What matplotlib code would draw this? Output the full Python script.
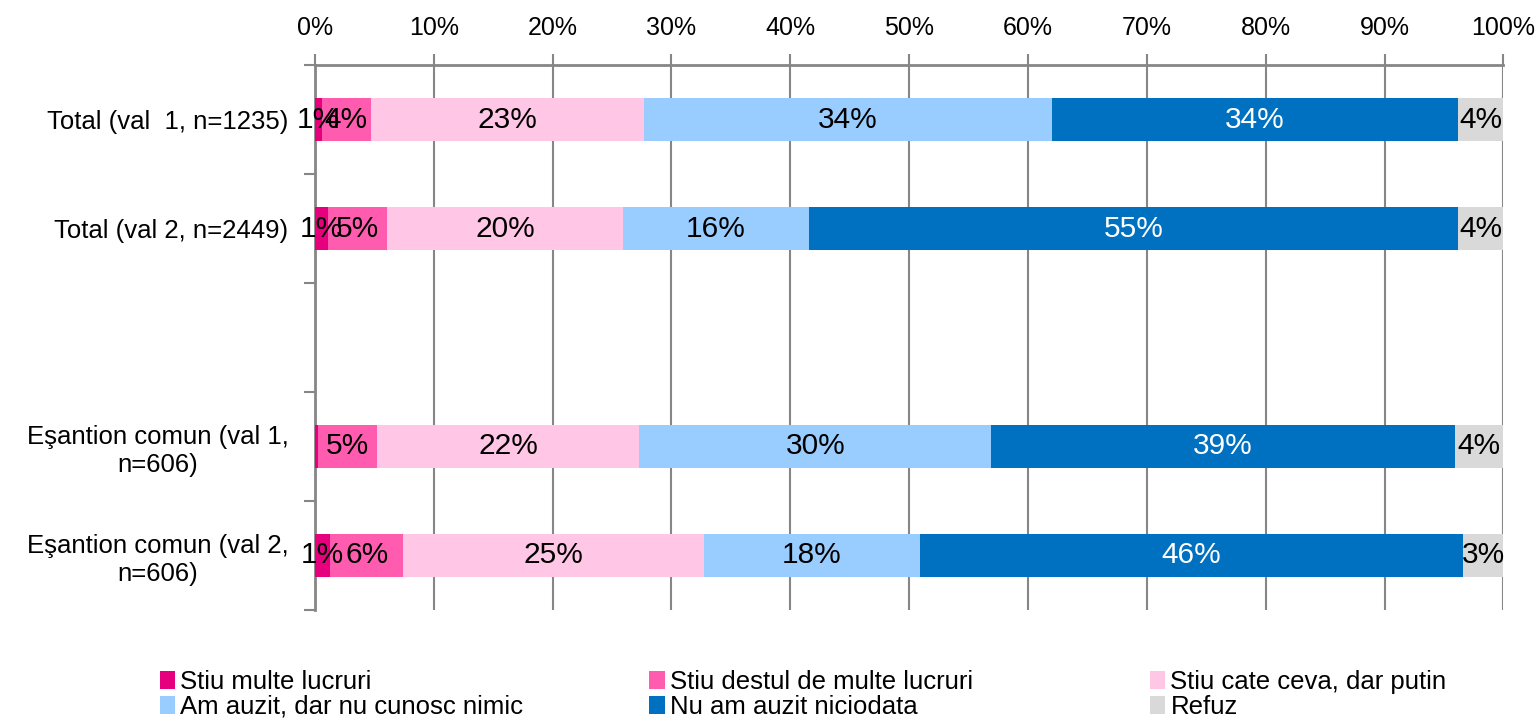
import numpy as np
import matplotlib.pyplot as plt

plt.rcParams['font.family'] = ['Liberation Sans', 'DejaVu Sans']

# categories (empty string = blank slot between the two groups)
categories = ["Total (val  1, n=1235)", "Total (val 2, n=2449)", "",
              "Eşantion comun (val 1,\nn=606)", "Eşantion comun (val 2,\nn=606)"]

series_names = ["Stiu multe lucruri", "Stiu destul de multe lucruri",
                "Stiu cate ceva, dar putin", "Am auzit, dar nu cunosc nimic",
                "Nu am auzit niciodata", "Refuz"]

stiu_multe = [0.6, 1.1, 0, 0.3, 1.3]
stiu_destul = [4.1, 5.0, 0, 4.9, 6.1]
stiu_cate = [23.0, 19.8, 0, 22.1, 25.3]
am_auzit = [34.3, 15.7, 0, 29.6, 18.2]
nu_am_auzit = [34.2, 54.6, 0, 39.0, 45.7]
refuz = [3.8, 3.8, 0, 4.1, 3.4]

colors = ["#E6007E", "#FF5CB0", "#FFC6E5", "#99CCFF", "#0070C0", "#D9D9D9"]
text_colors = ["black", "black", "black", "black", "white", "black"]

series = [stiu_multe, stiu_destul, stiu_cate, am_auzit, nu_am_auzit, refuz]

fig = plt.figure(figsize=(15.4, 7.21), dpi=100)
ax = fig.add_axes([0.2045, 0.154, 0.9762 - 0.2045, 0.9098 - 0.154])

y = np.arange(len(categories))
left = np.zeros(len(categories))
handles = []
for name, vals, col, tcol in zip(series_names, series, colors, text_colors):
    vals = np.array(vals, dtype=float)
    bars = ax.barh(y, vals, left=left, height=0.4, color=col, label=name, zorder=3)
    handles.append(bars)
    for yi, (l, v) in enumerate(zip(left, vals)):
        if v >= 0.5:
            ax.text(l + v / 2, yi, f"{round(v)}%", ha='center', va='center',
                    fontsize=21.5, color=tcol, zorder=4)
    left += vals

ax.set_xlim(0, 100)
ax.set_ylim(len(categories) - 0.5, -0.5)

# x axis on top
ax.xaxis.tick_top()
ax.set_xticks(np.arange(0, 101, 10))
ax.set_xticklabels([f"{t}%" for t in range(0, 101, 10)], fontsize=18)
ax.tick_params(axis='x', length=8, width=1.5, color='#868686', pad=10)
ax.grid(axis='x', color='#868686', linewidth=1.5, zorder=0)

# y axis: labels in slot centres, tick marks at slot boundaries
ax.set_yticks(y)
ax.set_yticklabels(categories, fontsize=18.5, multialignment='center')
ax.tick_params(axis='y', which='major', length=0, pad=19)
ax.set_yticks(np.arange(-0.5, len(categories)), minor=True)
ax.tick_params(axis='y', which='minor', length=8, width=1.5, color='#868686')

for s in ['right', 'bottom']:
    ax.spines[s].set_visible(False)
for s in ['left', 'top']:
    ax.spines[s].set_color('#868686')
    ax.spines[s].set_linewidth(2)

# legend: three columns, each filled top to bottom
col_x = [0.097, 0.415, 0.740]
for k, x0 in enumerate(col_x):
    idx = [k, k + 3]
    fig.legend([handles[i] for i in idx], [series_names[i] for i in idx],
               loc='lower left', bbox_to_anchor=(x0, -0.011), frameon=False,
               fontsize=18.5, handlelength=0.6, handleheight=0.7,
               handletextpad=0.2, labelspacing=0.03, borderaxespad=0)

fig.savefig('out.png', dpi=100)
